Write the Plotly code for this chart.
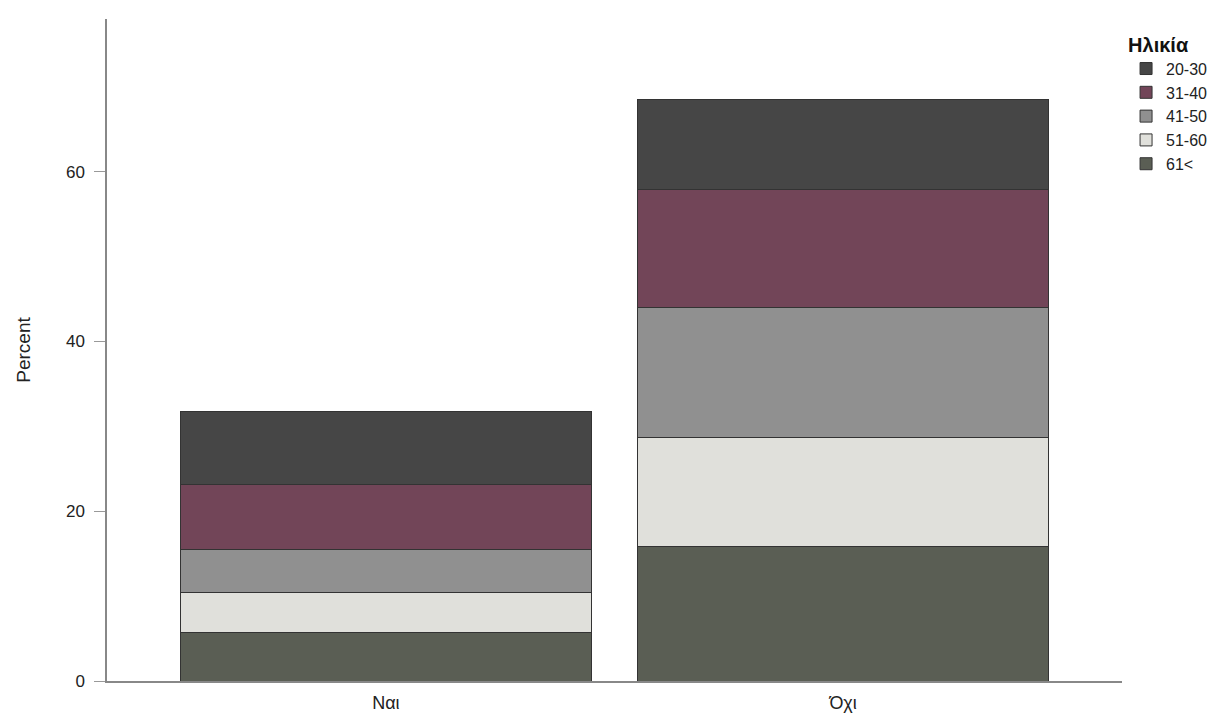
import plotly.graph_objects as go

categories = ["Ναι", "Όχι"]
age_groups = ["61<", "51-60", "41-50", "31-40", "20-30"]
values = {
    "61<":   [5.7, 15.8],
    "51-60": [4.7, 12.9],
    "41-50": [5.1, 15.3],
    "31-40": [7.6, 13.9],
    "20-30": [8.7, 10.6],
}
colors = {
    "20-30": "#464646",
    "31-40": "#724558",
    "41-50": "#909090",
    "51-60": "#e0e0db",
    "61<":   "#5a5e54",
}

fig = go.Figure()
for g in age_groups:
    fig.add_trace(go.Bar(
        x=categories, y=values[g], name=g,
        marker=dict(color=colors[g], line=dict(color="#333333", width=1)),
        width=0.9,
    ))

font_family = "Liberation Sans, Arial, sans-serif"
fig.update_layout(
    barmode="stack",
    width=1223, height=718,
    margin=dict(l=99, r=109, t=11, b=45),
    paper_bgcolor="white", plot_bgcolor="white",
    font=dict(family=font_family, color="#222222", size=17),
    showlegend=True,
    legend=dict(
        title=dict(text="<b>Ηλικία</b>", font=dict(size=20, color="#111111")),
        traceorder="reversed",
        x=1.004, xanchor="left", y=0.99, yanchor="top",
        font=dict(size=16, color="#222222"),
        itemwidth=30, tracegroupgap=0,
        bgcolor="rgba(0,0,0,0)",
    ),
    xaxis=dict(
        range=[-0.61, 1.61], showline=True, linecolor="#888888", linewidth=1.5,
        ticks="", showgrid=False, tickfont=dict(size=18), ticklabelstandoff=5,
    ),
    yaxis=dict(
        range=[0, 78], tickvals=[0, 20, 40, 60], showline=True,
        linecolor="#888888", linewidth=1.5, ticks="outside", ticklen=11,
        tickcolor="#999999", showgrid=False, zeroline=False,
        tickfont=dict(size=17), ticklabelstandoff=6,
        title=dict(text="Percent", font=dict(size=19), standoff=30),
    ),
)

fig.write_html("out.html")
